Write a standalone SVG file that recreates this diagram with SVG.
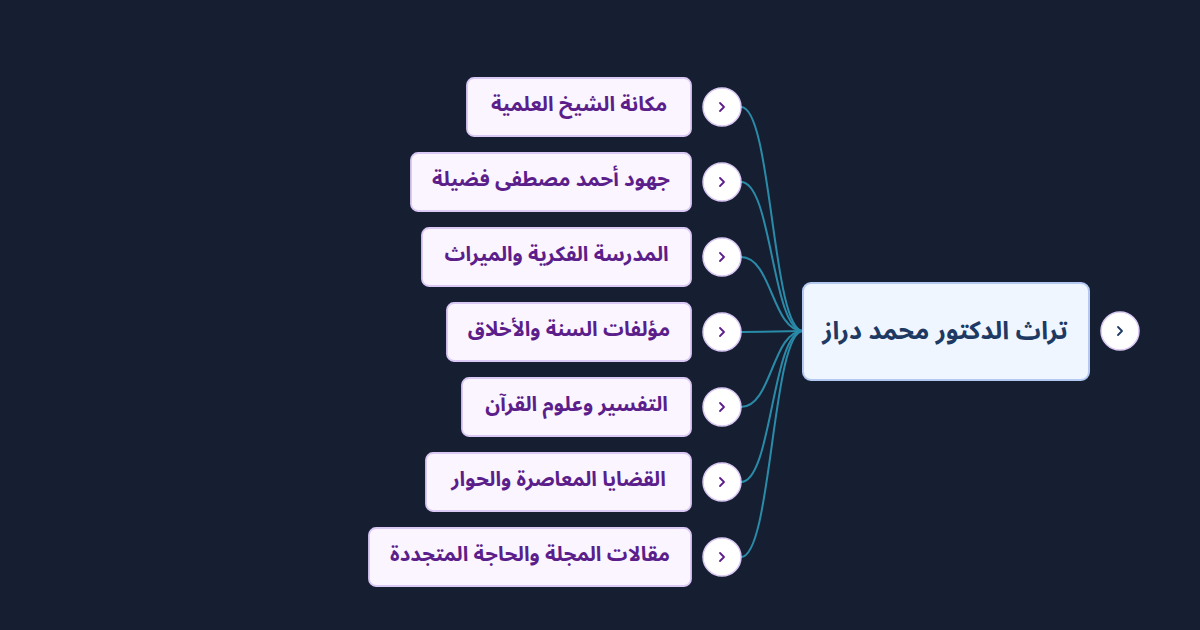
<svg xmlns="http://www.w3.org/2000/svg" width="1200" height="630" viewBox="0 0 1200 630">
<style>
.child rect{fill:#faf5ff;stroke:#dac8f5;stroke-width:1.8}
.child text{fill:#5b1e8a;font-family:"Noto Sans Arabic","DejaVu Sans",sans-serif;font-weight:bold;font-size:20.5px;text-anchor:middle}
.btn circle{fill:#ffffff;stroke:#dac8f5;stroke-width:1.5}
.btn path{fill:none;stroke:#5b1e8a;stroke-width:1.8;stroke-linecap:round;stroke-linejoin:round}
.conn path{fill:none;stroke:#2a8ba8;stroke-width:2}
</style>
<rect width="1200" height="630" fill="#161e31"/>
<g class="conn" id="connectors">
<path d="M741,107 C772,107 772,331 803,331"/>
<path d="M741,182 C772,182 772,331 803,331"/>
<path d="M741,257 C772,257 772,331 803,331"/>
<path d="M741,332 L803,331"/>
<path d="M741,407 C772,407 772,331 803,331"/>
<path d="M741,482 C772,482 772,331 803,331"/>
<path d="M741,557 C772,557 772,331 803,331"/>
</g>
<g id="root">
<rect x="803" y="283" width="286" height="97" rx="8" fill="#eff6ff" stroke="#b3c9f2" stroke-width="2"/>
<text x="945" y="339" fill="#1e3a63" font-family="Noto Sans Arabic,DejaVu Sans,sans-serif" font-weight="bold" font-size="25" text-anchor="middle">تراث الدكتور محمد دراز</text>
</g>
<g id="root-toggle" class="btn"><circle cx="1120" cy="331" r="19"/><path d="M1118,327 L1122,331 L1118,335" style="stroke:#1e3a63"/></g>
<g id="n1" class="child"><rect x="467" y="78" width="224" height="58" rx="7"/><text x="579" y="111">مكانة الشيخ العلمية</text></g>
<g id="n2" class="child"><rect x="411" y="153" width="280" height="58" rx="7"/><text x="551" y="186">جهود أحمد مصطفى فضيلة</text></g>
<g id="n3" class="child"><rect x="422" y="228" width="269" height="58" rx="7"/><text x="556.5" y="261">المدرسة الفكرية والميراث</text></g>
<g id="n4" class="child"><rect x="447" y="303" width="244" height="58" rx="7"/><text x="569" y="336">مؤلفات السنة والأخلاق</text></g>
<g id="n5" class="child"><rect x="462" y="378" width="229" height="58" rx="7"/><text x="576.5" y="411">التفسير وعلوم القرآن</text></g>
<g id="n6" class="child"><rect x="426" y="453" width="265" height="58" rx="7"/><text x="558.5" y="486">القضايا المعاصرة والحوار</text></g>
<g id="n7" class="child"><rect x="369" y="528" width="322" height="58" rx="7"/><text x="530" y="561">مقالات المجلة والحاجة المتجددة</text></g>
<g class="btn" id="toggles">
<g id="t1"><circle cx="722" cy="107" r="19"/><path d="M720,103 L724,107 L720,111"/></g>
<g id="t2"><circle cx="722" cy="182" r="19"/><path d="M720,178 L724,182 L720,186"/></g>
<g id="t3"><circle cx="722" cy="257" r="19"/><path d="M720,253 L724,257 L720,261"/></g>
<g id="t4"><circle cx="722" cy="332" r="19"/><path d="M720,328 L724,332 L720,336"/></g>
<g id="t5"><circle cx="722" cy="407" r="19"/><path d="M720,403 L724,407 L720,411"/></g>
<g id="t6"><circle cx="722" cy="482" r="19"/><path d="M720,478 L724,482 L720,486"/></g>
<g id="t7"><circle cx="722" cy="557" r="19"/><path d="M720,553 L724,557 L720,561"/></g>
</g>
</svg>
